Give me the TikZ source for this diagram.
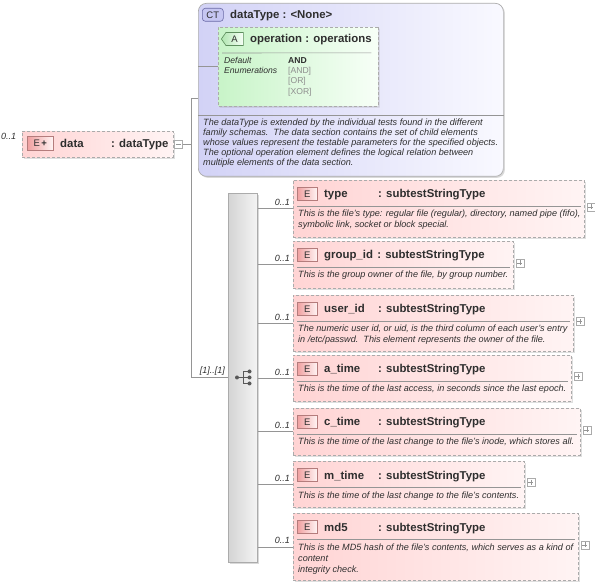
\documentclass[tikz,border=0pt]{standalone}
\usepackage{fontspec}
\setmainfont{Liberation Sans}
\usetikzlibrary{positioning, shadows, shapes.misc, shapes.symbols}
\definecolor{LineGray}{HTML}{959595}
\definecolor{BorderGray}{HTML}{ABABAB}
\definecolor{ElemPink}{HTML}{FFD4D4}
\definecolor{ElemLight}{HTML}{FFF4F4}
\definecolor{BadgeRed}{HTML}{F0A0A0}
\definecolor{BadgeEdge}{HTML}{B47C7C}
\definecolor{CTBlue}{HTML}{D2D2F6}
\definecolor{CTLight}{HTML}{F9F9FF}
\definecolor{BadgeBlue}{HTML}{C6C6F2}
\definecolor{BadgeBlueEdge}{HTML}{6A6AA6}
\definecolor{AttrGreen}{HTML}{C8F4C8}
\definecolor{AttrLight}{HTML}{F7FFF7}
\definecolor{BadgeGreen}{HTML}{B0E6B0}
\definecolor{BadgeGreenEdge}{HTML}{5E8E5E}
\definecolor{DescText}{HTML}{2E2E2E}
\definecolor{EnumGray}{HTML}{8E8E8E}
\definecolor{BarGray}{HTML}{D4D4D4}
\definecolor{BarLight}{HTML}{F4F4F4}
\tikzset{
    elem/.style={draw=BorderGray, dash pattern=on 3pt off 2pt, line width=0.7pt, left color=ElemPink, right color=ElemLight, anchor=north west, inner sep=0pt, drop shadow={shadow xshift=1.5pt, shadow yshift=-1.5pt, opacity=0.25}},
    ebadge/.style={draw=BadgeEdge, line width=0.6pt, left color=BadgeRed, right color=ElemLight, anchor=north west, minimum width=20pt, minimum height=13pt, inner sep=0pt, font=\fontsize{9.5}{9.5}\selectfont, text=DescText},
    ename/.style={anchor=base west, inner sep=0pt, font=\fontsize{11.4}{13}\selectfont\bfseries, text=DescText},
    desc/.style={anchor=base west, inner sep=0pt, align=left, font=\fontsize{9.1}{11}\selectfont\itshape, text=DescText},
    mult/.style={anchor=base east, inner sep=0pt, font=\fontsize{9}{10}\selectfont\itshape, text=DescText},
    sep/.style={draw=LineGray, line width=0.6pt},
    conn/.style={draw=LineGray, line width=0.7pt},
    plusbox/.style={draw=BorderGray, fill=white, minimum size=8pt, inner sep=0pt, line width=0.5pt, anchor=west,
        path picture={\draw[LineGray, line width=0.5pt] ([xshift=1.5pt]path picture bounding box.west) -- ([xshift=-1.5pt]path picture bounding box.east) ([yshift=-1.5pt]path picture bounding box.north) -- ([yshift=1.5pt]path picture bounding box.south);}},
    minusbox/.style={draw=BorderGray, fill=white, minimum size=8pt, inner sep=0pt, line width=0.5pt, anchor=north west,
        path picture={\draw[LineGray, line width=0.5pt] ([xshift=1.5pt]path picture bounding box.west) -- ([xshift=-1.5pt]path picture bounding box.east);}},
    ctbox/.style={draw=BorderGray, line width=0.7pt, rounded corners=8pt, left color=CTBlue, right color=CTLight, anchor=north west, inner sep=0pt, drop shadow={shadow xshift=1.5pt, shadow yshift=-1.5pt, opacity=0.3}},
    attrbox/.style={chamfered rectangle, chamfered rectangle corners={north west, south west}, chamfered rectangle xsep=5pt, chamfered rectangle ysep=5pt, draw=BorderGray, dash pattern=on 3pt off 2pt, line width=0.7pt, left color=AttrGreen, right color=AttrLight, anchor=north west, inner sep=0pt, drop shadow={shadow xshift=1.5pt, shadow yshift=-1.5pt, opacity=0.25}},
    seqbar/.style={draw=BorderGray, line width=0.6pt, left color=BarGray, right color=BarLight, anchor=north west, inner sep=0pt, drop shadow={shadow xshift=1.5pt, shadow yshift=-1.5pt, opacity=0.3}}
}
\begin{document}
\begin{tikzpicture}[x=1pt, y=-1pt]
    \useasboundingbox (0,0) rectangle (595,585);

    % Complex type dataType
    \node[ctbox, minimum width=305, minimum height=173] (ct) at (198,3) {};
    \node[draw=BadgeBlueEdge, line width=0.6pt, fill=BadgeBlue, rounded corners=3pt, anchor=north west, minimum width=21pt, minimum height=13pt, inner sep=0pt, font=\fontsize{9.5}{9.5}\selectfont, text=DescText] (ctbadge) at (202,8) {CT};
    \node[ename] (ctname) at (230,19) {dataType : <None>};
    \draw[sep] ([yshift=-112pt]ct.north west) -- ([yshift=-112pt]ct.north east);
    \node[desc, font=\fontsize{9.1}{10}\selectfont\itshape] (ctdesc) at (203,166) {The dataType is extended by the individual tests found in the different\\
        family schemas.\ \ The data section contains the set of child elements\\
        whose values represent the testable parameters for the specified objects.\\
        The optional operation element defines the logical relation between\\
        multiple elements of the data section.};

    % Attribute operation
    \node[attrbox, minimum width=160, minimum height=79] (attr) at (218,27) {};
    \node[signal, signal to=west, signal pointer angle=110, draw=BadgeGreenEdge, line width=0.6pt, left color=BadgeGreen, right color=AttrLight, minimum width=22pt, minimum height=13pt, inner sep=0pt, anchor=west, font=\fontsize{9.5}{9.5}\selectfont, text=DescText] (attrbadge) at (221,39) {A};
    \node[ename] (attrname) at (250,43) {operation : operations};
    \draw[sep] ([shift={(4pt,-26pt)}]attr.north west) -- ([shift={(-7pt,-26pt)}]attr.north east);
    \node[desc, font=\fontsize{8.6}{10}\selectfont\itshape] (attrkeys) at (224,74) {Default\\Enumerations};
    \node[anchor=base west, inner sep=0pt, font=\fontsize{8.6}{10}\selectfont\bfseries, text=DescText] (enumdef) at (288,64) {AND};
    \node[anchor=base west, inner sep=0pt, font=\fontsize{8.6}{10}\selectfont, text=EnumGray] (enumand) at (288,74) {[AND]};
    \node[anchor=base west, inner sep=0pt, font=\fontsize{8.6}{10}\selectfont, text=EnumGray] (enumor) at (288,84) {[OR]};
    \node[anchor=base west, inner sep=0pt, font=\fontsize{8.6}{10}\selectfont, text=EnumGray] (enumxor) at (288,95) {[XOR]};
    \draw[conn] (ct.west |- attr.west) -- (attr.west);

    % Root element data
    \node[elem, minimum width=151, minimum height=26] (data) at (22,131) {};
    \node[ebadge, minimum width=26pt, minimum height=14pt] (databadge) at (27,136) {E\,\textbf{+}};
    \node[ename] (dataname) at (60,148) {data};
    \node[ename] (datatype) at (111,148) {: dataType};
    \node[mult, anchor=base west] (datamult) at (1,140) {0..1};
    \node[minusbox] (dataminus) at (174,140) {};

    % Trunk and sequence
    \coordinate (trunktop) at (191,98);
    \coordinate (trunkbot) at (191,377);
    \node[seqbar, minimum width=29, minimum height=369] (seq) at (228,193) {};
    \draw[conn] (dataminus.east) -- (dataminus.east -| trunktop);
    \draw[conn] (ct.west |- trunktop) -- (trunktop) -- (trunkbot) -- (seq.west |- trunkbot);
    \node[mult] (seqmult) at ([shift={(-3pt,3pt)}]seq.west |- trunkbot) {[1]..[1]};
    \draw[DescText!80, line width=0.8pt] (237,377.5) -- (243,377.5) (243,371.5) -- (243,383.5) (243,371.5) -- (249,371.5) (243,377.5) -- (249,377.5) (243,383.5) -- (249,383.5);
    \fill[DescText!80] (237,377.5) circle (2) (249.5,371.5) circle (2) (249.5,377.5) circle (2) (249.5,383.5) circle (2);

    % type
    \node[elem, minimum width=291, minimum height=57] (type) at (293,180) {};
    \node[ebadge] (typebadge) at ([shift={(4pt,-7pt)}]type.north west) {E};
    \node[ename] (typename) at ([shift={(31pt,-18pt)}]type.north west) {type};
    \node[ename] (typetype) at ([shift={(85pt,-18pt)}]type.north west) {: subtestStringType};
    \draw[sep] ([shift={(4pt,-26pt)}]type.north west) -- ([shift={(-4pt,-26pt)}]type.north east);
    \node[desc] (typedesc) at ([shift={(5pt,-48pt)}]type.north west) {This is the file's type: regular file (regular), directory, named pipe (fifo),\\symbolic link, socket or block special.};
    \node[plusbox] (typeplus) at ([shift={(2pt,2pt)}]type.east) {};
    \draw[conn] (seq.east |- type.west) -- (type.west);
    \node[mult] (typemult) at ([shift={(-3pt,3pt)}]type.west) {0..1};

    % group_id
    \node[elem, minimum width=220, minimum height=47] (group) at (293,241) {};
    \node[ebadge] (groupbadge) at ([shift={(4pt,-7pt)}]group.north west) {E};
    \node[ename] (groupname) at ([shift={(31pt,-18pt)}]group.north west) {group\_id};
    \node[ename] (grouptype) at ([xshift=4pt]groupname.base east) {: subtestStringType};
    \draw[sep] ([shift={(4pt,-26pt)}]group.north west) -- ([shift={(-4pt,-26pt)}]group.north east);
    \node[desc] (groupdesc) at ([shift={(5pt,-37pt)}]group.north west) {This is the group owner of the file, by group number.};
    \node[plusbox] (groupplus) at ([shift={(2pt,2pt)}]group.east) {};
    \draw[conn] (seq.east |- group.west) -- (group.west);
    \node[mult] (groupmult) at ([shift={(-3pt,3pt)}]group.west) {0..1};

    % user_id
    \node[elem, minimum width=280, minimum height=56] (user) at (293,295) {};
    \node[ebadge] (userbadge) at ([shift={(4pt,-7pt)}]user.north west) {E};
    \node[ename] (username) at ([shift={(31pt,-18pt)}]user.north west) {user\_id};
    \node[ename] (usertype) at ([shift={(85pt,-18pt)}]user.north west) {: subtestStringType};
    \draw[sep] ([shift={(4pt,-26pt)}]user.north west) -- ([shift={(-4pt,-26pt)}]user.north east);
    \node[desc] (userdesc) at ([shift={(5pt,-48pt)}]user.north west) {The numeric user id, or uid, is the third column of each user's entry\\in /etc/passwd.\ \ This element represents the owner of the file.};
    \node[plusbox] (userplus) at ([shift={(2pt,2pt)}]user.east) {};
    \draw[conn] (seq.east |- user.west) -- (user.west);
    \node[mult] (usermult) at ([shift={(-3pt,3pt)}]user.west) {0..1};

    % a_time
    \node[elem, minimum width=278, minimum height=46] (atime) at (293,355) {};
    \node[ebadge] (atimebadge) at ([shift={(4pt,-7pt)}]atime.north west) {E};
    \node[ename] (atimename) at ([shift={(31pt,-18pt)}]atime.north west) {a\_time};
    \node[ename] (atimetype) at ([shift={(85pt,-18pt)}]atime.north west) {: subtestStringType};
    \draw[sep] ([shift={(4pt,-26pt)}]atime.north west) -- ([shift={(-4pt,-26pt)}]atime.north east);
    \node[desc] (atimedesc) at ([shift={(5pt,-37pt)}]atime.north west) {This is the time of the last access, in seconds since the last epoch.};
    \node[plusbox] (atimeplus) at ([shift={(2pt,2pt)}]atime.east) {};
    \draw[conn] (seq.east |- atime.west) -- (atime.west);
    \node[mult] (atimemult) at ([shift={(-3pt,3pt)}]atime.west) {0..1};

    % c_time
    \node[elem, minimum width=287, minimum height=47] (ctime) at (293,408) {};
    \node[ebadge] (ctimebadge) at ([shift={(4pt,-7pt)}]ctime.north west) {E};
    \node[ename] (ctimename) at ([shift={(31pt,-18pt)}]ctime.north west) {c\_time};
    \node[ename] (ctimetype) at ([shift={(85pt,-18pt)}]ctime.north west) {: subtestStringType};
    \draw[sep] ([shift={(4pt,-26pt)}]ctime.north west) -- ([shift={(-4pt,-26pt)}]ctime.north east);
    \node[desc] (ctimedesc) at ([shift={(5pt,-37pt)}]ctime.north west) {This is the time of the last change to the file's inode, which stores all.};
    \node[plusbox] (ctimeplus) at ([shift={(2pt,2pt)}]ctime.east) {};
    \draw[conn] (seq.east |- ctime.west) -- (ctime.west);
    \node[mult] (ctimemult) at ([shift={(-3pt,3pt)}]ctime.west) {0..1};

    % m_time
    \node[elem, minimum width=231, minimum height=46] (mtime) at (293,461) {};
    \node[ebadge] (mtimebadge) at ([shift={(4pt,-7pt)}]mtime.north west) {E};
    \node[ename] (mtimename) at ([shift={(31pt,-18pt)}]mtime.north west) {m\_time};
    \node[ename] (mtimetype) at ([shift={(85pt,-18pt)}]mtime.north west) {: subtestStringType};
    \draw[sep] ([shift={(4pt,-26pt)}]mtime.north west) -- ([shift={(-4pt,-26pt)}]mtime.north east);
    \node[desc] (mtimedesc) at ([shift={(5pt,-37pt)}]mtime.north west) {This is the time of the last change to the file's contents.};
    \node[plusbox] (mtimeplus) at ([shift={(2pt,2pt)}]mtime.east) {};
    \draw[conn] (seq.east |- mtime.west) -- (mtime.west);
    \node[mult] (mtimemult) at ([shift={(-3pt,3pt)}]mtime.west) {0..1};

    % md5
    \node[elem, minimum width=285, minimum height=67] (md) at (293,513) {};
    \node[ebadge] (mdbadge) at ([shift={(4pt,-7pt)}]md.north west) {E};
    \node[ename] (mdname) at ([shift={(31pt,-18pt)}]md.north west) {md5};
    \node[ename] (mdtype) at ([shift={(85pt,-18pt)}]md.north west) {: subtestStringType};
    \draw[sep] ([shift={(4pt,-26pt)}]md.north west) -- ([shift={(-4pt,-26pt)}]md.north east);
    \node[desc] (mddesc) at ([shift={(5pt,-59pt)}]md.north west) {This is the MD5 hash of the file's contents, which serves as a kind of\\content\\integrity check.};
    \node[plusbox] (mdplus) at ([shift={(2pt,2pt)}]md.east) {};
    \draw[conn] (seq.east |- md.west) -- (md.west);
    \node[mult] (mdmult) at ([shift={(-3pt,3pt)}]md.west) {0..1};
\end{tikzpicture}
\end{document}
